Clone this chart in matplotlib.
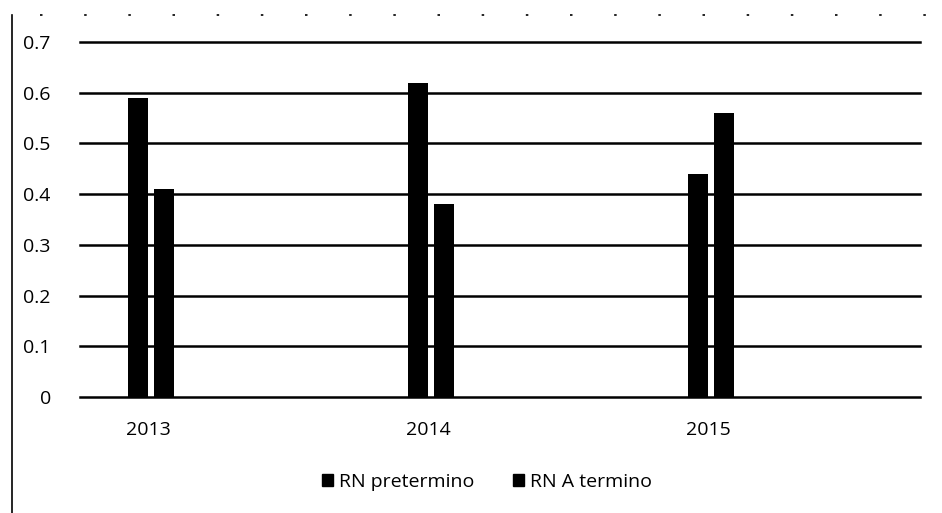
import matplotlib
matplotlib.use("Agg")
import matplotlib.pyplot as plt
from matplotlib.lines import Line2D
from matplotlib.patches import Patch
import numpy as np

years = ["2013", "2014", "2015"]
pretermino = [0.59, 0.62, 0.44]
a_termino = [0.41, 0.38, 0.56]
series_names = ["RN pretermino", "RN A termino"]
yticks = [0, 0.1, 0.2, 0.3, 0.4, 0.5, 0.6, 0.7]
ytick_labels = ["0", "0.1", "0.2", "0.3", "0.4", "0.5", "0.6", "0.7"]

plt.rcParams['font.family'] = ['Open Sans', 'DejaVu Sans']

fig = plt.figure(figsize=(9.42, 5.13), dpi=100)
W, H = 942, 513
ax = fig.add_axes([80 / W, 1 - 397 / H, 840 / W, (397 - 42) / H])

x = np.arange(len(years))
bw = 0.072
gap = 0.02
off = (bw + gap) / 2
ax.bar(x - off, pretermino, width=bw, color="black", zorder=3)
ax.bar(x + off, a_termino, width=bw, color="black", zorder=3)

ax.set_xlim(-0.254, 2.746)
ax.set_ylim(0, 0.7)
for v in yticks:
    ax.axhline(v, color="black", linewidth=1.8, zorder=1, clip_on=False)

fs = 14
ax.set_yticks(yticks)
ax.set_yticklabels(ytick_labels, fontsize=fs)
ax.set_xticks(x - 0.01)
ax.set_xticklabels(years, fontsize=fs)
ax.tick_params(axis="y", length=0, pad=21)
ax.tick_params(axis="x", length=0, pad=17)
for s in ax.spines.values():
    s.set_visible(False)

handles = [Patch(facecolor="black", edgecolor="black", label=n) for n in series_names]
fig.legend(handles=handles, loc="center", bbox_to_anchor=(487 / W, 1 - 482 / H),
           ncol=2, frameon=False, fontsize=fs, handlelength=0.55, handleheight=0.6,
           handletextpad=0.3, columnspacing=2.0)

# scan border artefacts
fig.add_artist(Line2D([12 / W, 12 / W], [0, 1 - 15 / H], color="black", linewidth=1.2))
fig.add_artist(Line2D([40 / W, 930 / W], [1 - 15 / H, 1 - 15 / H], color="black",
                      linewidth=1.2, linestyle=(0, (1.5, 25))))

fig.savefig("out.png", dpi=100)
